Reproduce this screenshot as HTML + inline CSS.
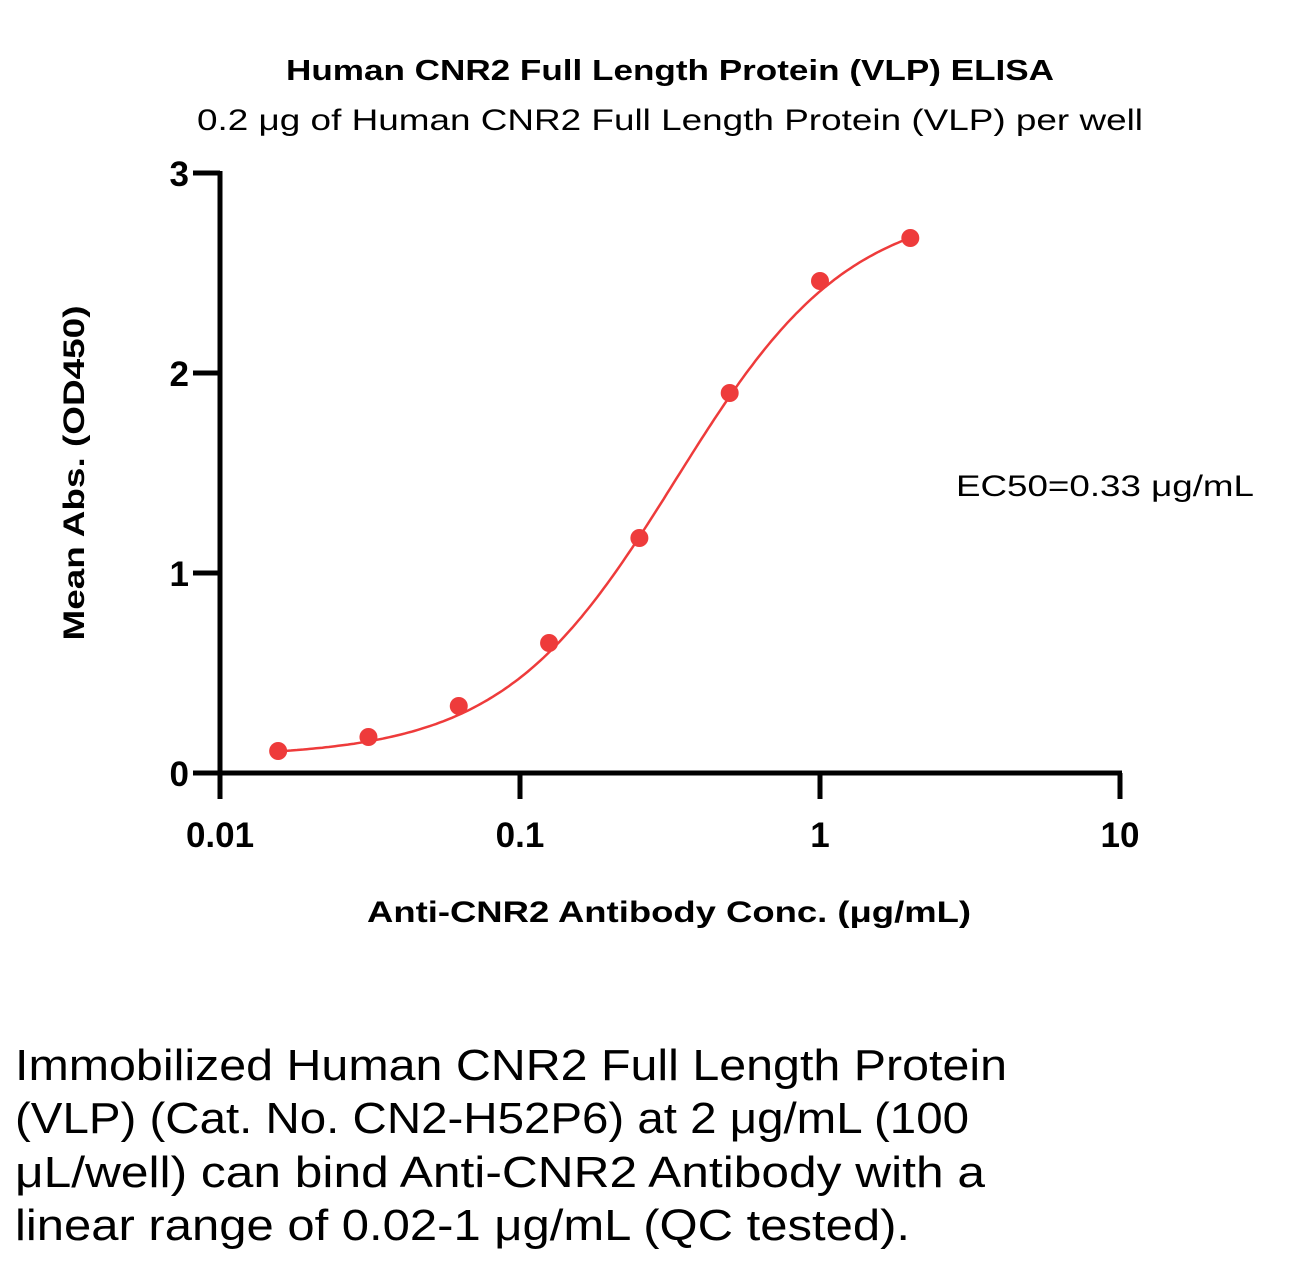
<!DOCTYPE html>
<html><head><meta charset="utf-8"><style>
html,body{margin:0;padding:0;background:#fff;}
svg{display:block;font-family:"Liberation Sans",sans-serif;}
</style></head><body>
<svg id="chart" width="1298" height="1265" viewBox="0 0 1298 1265">
<text x="670" y="80" text-anchor="middle" font-size="29" font-weight="bold" textLength="768" lengthAdjust="spacingAndGlyphs">Human CNR2 Full Length Protein (VLP) ELISA</text>
<text x="670" y="130" text-anchor="middle" font-size="30" textLength="946" lengthAdjust="spacingAndGlyphs">0.2 μg of Human CNR2 Full Length Protein (VLP) per well</text>
<g id="axes"></g>
<g id="marks"></g>
<text x="0" y="0" transform="translate(84,473) rotate(-90)" text-anchor="middle" font-size="30" font-weight="bold" textLength="335" lengthAdjust="spacingAndGlyphs">Mean Abs. (OD450)</text>
<text x="669" y="922" text-anchor="middle" font-size="30" font-weight="bold" textLength="604" lengthAdjust="spacingAndGlyphs">Anti-CNR2 Antibody Conc. (μg/mL)</text>
<text x="956" y="496" font-size="30" textLength="298" lengthAdjust="spacingAndGlyphs">EC50=0.33 μg/mL</text>
<g font-size="44">
<text x="15" y="1080" textLength="992" lengthAdjust="spacingAndGlyphs">Immobilized Human CNR2 Full Length Protein</text>
<text x="15" y="1133" textLength="954" lengthAdjust="spacingAndGlyphs">(VLP) (Cat. No. CN2-H52P6) at 2 μg/mL (100</text>
<text x="15" y="1187" textLength="970" lengthAdjust="spacingAndGlyphs">μL/well) can bind Anti-CNR2 Antibody with a</text>
<text x="15" y="1240" textLength="895" lengthAdjust="spacingAndGlyphs">linear range of 0.02-1 μg/mL (QC tested).</text>
</g>
</svg>
<script>
const concentrations = [0.015625, 0.03125, 0.0625, 0.125, 0.25, 0.5, 1, 2];
const absorbances = [0.11, 0.18, 0.335, 0.65, 1.175, 1.9, 2.46, 2.675];
const fitParams = [0.08, 2.85, 0.33, 1.5]; // bottom, top, EC50, hill
const xTickValues = [0.01, 0.1, 1, 10];
const xTickLabels = ["0.01", "0.1", "1", "10"];
const yTickValues = [0, 1, 2, 3];
const yTickLabels = ["0", "1", "2", "3"];

const NS = "http://www.w3.org/2000/svg";
const X0 = 220, X1 = 1120, Y0 = 773, Y1 = 173;
const xs = v => X0 + (Math.log10(v) + 2) / 3 * (X1 - X0);
const ys = v => Y0 - v / 3 * (Y0 - Y1);
function mk(tag, attrs, parent) {
  const e = document.createElementNS(NS, tag);
  for (const k in attrs) e.setAttribute(k, attrs[k]);
  parent.appendChild(e);
  return e;
}
const axes = document.getElementById("axes");
const marks = document.getElementById("marks");
let e = mk("line", {x1: X0, y1: Y1 - 2, x2: X0, y2: Y0 + 2, stroke: "#000", "stroke-width": 5}, axes);


e = mk("line", {x1: X0 - 2, y1: Y0, x2: X1 + 2, y2: Y0, stroke: "#000", "stroke-width": 5}, axes);


yTickValues.forEach((v, i) => {
  const t = mk("line", {x1: X0 - 27, y1: ys(v), x2: X0, y2: ys(v), stroke: "#000", "stroke-width": 5}, axes);
  
  
  const l = mk("text", {x: 189, y: ys(v) + 13, "text-anchor": "end", "font-size": 35, "font-weight": "bold"}, axes);
  l.textContent = yTickLabels[i];
  
  
});
xTickValues.forEach((v, i) => {
  const t = mk("line", {x1: xs(v), y1: Y0, x2: xs(v), y2: Y0 + 26, stroke: "#000", "stroke-width": 5}, axes);
  
  
  const l = mk("text", {x: xs(v), y: 847, "text-anchor": "middle", "font-size": 35, "font-weight": "bold"}, axes);
  l.textContent = xTickLabels[i];
  
  
});
const [b, tp, ec, h] = fitParams;
const f = x => b + (tp - b) / (1 + Math.pow(ec / x, h));
let d = "";
const lo = Math.log10(concentrations[0]), hi = Math.log10(concentrations[concentrations.length - 1]);
for (let i = 0; i <= 200; i++) {
  const lx = lo + (hi - lo) * i / 200, x = Math.pow(10, lx);
  d += (i ? "L" : "M") + xs(x).toFixed(1) + "," + ys(f(x)).toFixed(1);
}
e = mk("path", {d: d, fill: "none", stroke: "#ee3b3b", "stroke-width": 2.5}, marks);


concentrations.forEach((c, i) => {
  const p = mk("circle", {cx: xs(c), cy: ys(absorbances[i]), r: 9, fill: "#ee3b3b"}, marks);
  
  
});
</script>
</body></html>
